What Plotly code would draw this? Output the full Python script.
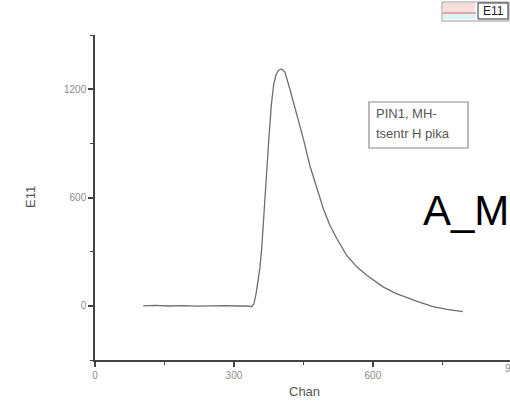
import plotly.graph_objects as go

# Trace E11 vs channel
chan = [104, 130, 160, 190, 220, 250, 280, 310, 330, 338, 343, 348, 352, 356,
        360, 365, 371, 376, 381, 386, 391, 396, 403, 410, 421, 435, 450, 464,
        479, 493, 507, 522, 543, 565, 586, 605, 622, 648, 673, 700, 730, 760, 794]
e11 = [0, 2, -1, 1, -2, 0, 1, -1, 0, -5, 10, 70, 130, 210,
       320, 530, 765, 950, 1120, 1230, 1280, 1305, 1312, 1295, 1198, 1069, 923, 776,
       648, 538, 446, 373, 281, 216, 171, 135, 105, 70, 44, 20, -5, -20, -32]

x_major = [0, 300, 600, 900]
y_major = [0, 600, 1200]

W, H = 510, 404
ML, MR, MT, MB = 95, 0, 35, 44
PW, PH = W - ML - MR, H - MT - MB


def px(x):
    return (x - ML) / PW


def py(y):
    return (H - MB - y) / PH


FONT = "Liberation Sans, Arial, sans-serif"
AXC = "#444444"

fig = go.Figure()
fig.add_trace(go.Scatter(x=chan, y=e11, mode="lines", name="E11",
                         line=dict(color="#6e6e6e", width=1.3),
                         showlegend=False))

axis_common = dict(showline=True, linecolor=AXC, linewidth=1.5, mirror=False,
                   ticks="outside", ticklen=5, tickwidth=1.5, tickcolor=AXC,
                   showgrid=False, zeroline=False,
                   tickfont=dict(family=FONT, size=10, color="#8a8a8a"))

fig.update_xaxes(range=[0, 896], tickvals=x_major, ticktext=[str(v) for v in x_major],
                 minor=dict(dtick=150, tick0=0, ticklen=3, tickwidth=1.2,
                            tickcolor=AXC, ticks="outside"),
                 **axis_common)
fig.update_yaxes(range=[-300, 1500], tickvals=y_major, ticktext=[str(v) for v in y_major],
                 minor=dict(dtick=300, tick0=0, ticklen=3, tickwidth=1.2,
                            tickcolor=AXC, ticks="outside"),
                 **axis_common)


def label(text, x, y, size, color, xanchor="center", angle=0):
    return dict(text=text, x=px(x), y=py(y), xref="paper", yref="paper",
                xanchor=xanchor, yanchor="middle", showarrow=False,
                textangle=angle, font=dict(family=FONT, size=size, color=color))


ann = [
    # axis titles
    label("Chan", 304, 391, 13, "#555555"),
    label("E11", 30, 197, 13, "#555555", angle=-90),
    # the 900 label sits at the right edge and is cut off there
    label("900", 503, 368, 10, "#8a8a8a", xanchor="left"),
    # note box text
    label("PIN1, MH-", 374, 113, 13, "#555555", xanchor="left"),
    label("tsentr H pika", 374, 133, 13, "#555555", xanchor="left"),
    # large label
    label("A_M", 421, 210, 42, "#000000", xanchor="left"),
    # legend label
    label("E11", 493, 11, 12, "#222222"),
]

shapes = []
# note box
shapes.append(dict(type="rect", xref="paper", yref="paper",
                   x0=px(369), x1=px(468), y0=py(148), y1=py(102),
                   line=dict(color="#8a8a8a", width=1.2), fillcolor="rgba(0,0,0,0)"))
# legend frame
shapes.append(dict(type="rect", xref="paper", yref="paper",
                   x0=px(442), x1=px(509), y0=py(21), y1=py(2),
                   line=dict(color="#9a9a9a", width=1), fillcolor="rgba(0,0,0,0)"))
shapes.append(dict(type="rect", xref="paper", yref="paper",
                   x0=px(443), x1=px(475), y0=py(12), y1=py(3),
                   line=dict(width=0), fillcolor="#f7dede"))
shapes.append(dict(type="rect", xref="paper", yref="paper",
                   x0=px(443), x1=px(475), y0=py(19), y1=py(14),
                   line=dict(width=0), fillcolor="#d8f4f4"))
shapes.append(dict(type="line", xref="paper", yref="paper",
                   x0=px(443), x1=px(476), y0=py(13), y1=py(13),
                   line=dict(color="#c05050", width=1.2)))
shapes.append(dict(type="rect", xref="paper", yref="paper",
                   x0=px(478), x1=px(508), y0=py(19), y1=py(3),
                   line=dict(color="#333333", width=1), fillcolor="rgba(0,0,0,0)"))

fig.update_layout(width=W, height=H, margin=dict(l=ML, r=MR, t=MT, b=MB),
                  paper_bgcolor="white", plot_bgcolor="white",
                  annotations=ann, shapes=shapes, showlegend=False)

fig.write_html("out.html")
